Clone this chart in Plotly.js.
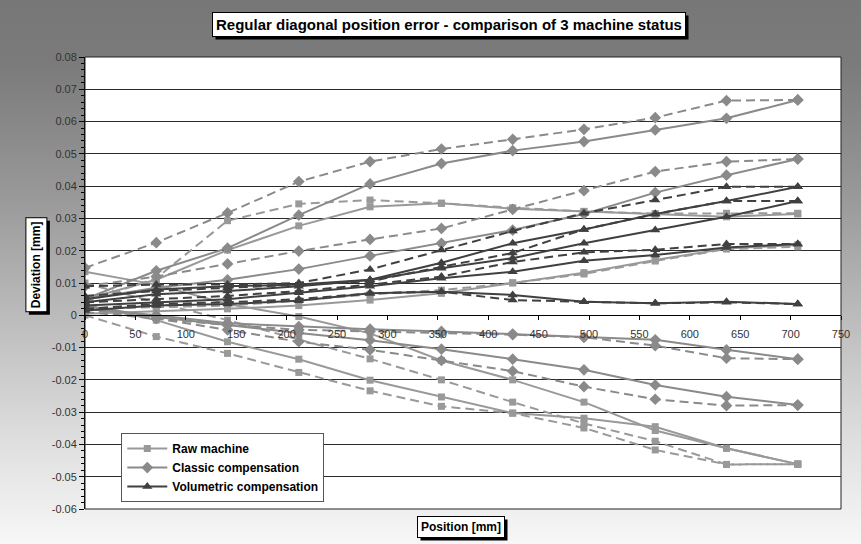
<!DOCTYPE html>
<html>
<head>
<meta charset="utf-8">
<script src="https://cdn.plot.ly/plotly-3.0.1.min.js"></script>
<style>
  html, body { margin: 0; padding: 0; width: 861px; height: 544px; overflow: hidden;
    background: linear-gradient(to bottom, #777777 0%, #7b7b7b 12%, #979797 35%, #bbbbbb 58%, #e0e0e0 82%, #f7f7f7 100%); }
  #chart { width: 861px; height: 544px; }
</style>
</head>
<body>
<div id="chart"></div>
<script>
// Positions along the diagonal [mm]
const positions = [0, 70.7, 141.4, 212.1, 282.8, 353.6, 424.3, 495.0, 565.7, 636.4, 707.1];

// Raw machine (squares)
const rawA_solid = [0.005, 0.011, 0.0202, 0.0277, 0.0336, 0.0347, 0.0330, 0.0321, 0.0313, 0.0305, 0.0314];
const rawA_dash  = [0.004, 0.0115, 0.0293, 0.0345, 0.0357, 0.0347, 0.0333, 0.0322, 0.0315, 0.0316, 0.0316];
const rawB_solid = [0.0005, 0.0012, 0.002, 0.003, 0.0047, 0.0068, 0.0101, 0.0132, 0.0171, 0.0207, 0.0218];
const rawB_dash  = [0.002, 0.0025, 0.003, 0.0045, 0.0065, 0.0078, 0.0100, 0.0128, 0.0168, 0.0205, 0.0212];
const rawC_solid = [0.003, -0.0015, -0.0082, -0.0136, -0.0201, -0.0253, -0.0303, -0.0319, -0.0345, -0.0412, -0.0461];
const rawC_dash  = [0.000, -0.0066, -0.0118, -0.0177, -0.0234, -0.0282, -0.0303, -0.0349, -0.0417, -0.0462, -0.0461];
const rawD_solid = [0.0135, 0.0095, 0.0035, -0.0004, -0.0056, -0.0140, -0.0200, -0.0269, -0.0357, -0.0412, -0.0461];
const rawD_dash  = [0.010, 0.004, -0.0015, -0.0075, -0.0135, -0.0200, -0.0269, -0.0335, -0.0390, -0.0462, -0.0461];

// Classic compensation (diamonds)
const clA_solid = [0.005, 0.0138, 0.0208, 0.0310, 0.0407, 0.0470, 0.0510, 0.0538, 0.0574, 0.0610, 0.0667];
const clA_dash  = [0.0147, 0.0225, 0.0317, 0.0414, 0.0476, 0.0515, 0.0545, 0.0576, 0.0612, 0.0665, 0.0667];
const clB_solid = [0.005, 0.0085, 0.0110, 0.0143, 0.0184, 0.0223, 0.0264, 0.0314, 0.0380, 0.0434, 0.0484];
const clB_dash  = [0.009, 0.0120, 0.0159, 0.0199, 0.0235, 0.0269, 0.0328, 0.0386, 0.0445, 0.0476, 0.0484];
const clC_solid = [0.002, 0.000, -0.0025, -0.0035, -0.0043, -0.0050, -0.0058, -0.0068, -0.0076, -0.0107, -0.0136];
const clC_dash  = [0.001, -0.001, -0.0030, -0.0045, -0.0050, -0.0055, -0.0060, -0.0068, -0.0094, -0.0133, -0.0136];
const clD_solid = [0.003, -0.0005, -0.0030, -0.0055, -0.0077, -0.0105, -0.0136, -0.0169, -0.0216, -0.0252, -0.0278];
const clD_dash  = [0.002, -0.0010, -0.0045, -0.0082, -0.0107, -0.0140, -0.0173, -0.0221, -0.0260, -0.0280, -0.0278];

// Volumetric compensation (triangles)
const voA_dash  = [0.009, 0.0095, 0.0095, 0.0100, 0.0142, 0.0202, 0.0261, 0.0316, 0.0357, 0.0398, 0.0398];
const voA_solid = [0.005, 0.0080, 0.0090, 0.0095, 0.0110, 0.0163, 0.0223, 0.0266, 0.0314, 0.0354, 0.0398];
const voB_dash  = [0.006, 0.0075, 0.0085, 0.0095, 0.0105, 0.0150, 0.0193, 0.0266, 0.0314, 0.0354, 0.0354];
const voB_solid = [0.004, 0.0065, 0.0075, 0.0090, 0.0109, 0.0146, 0.0177, 0.0223, 0.0264, 0.0305, 0.0354];
const voC_dash  = [0.004, 0.0050, 0.0060, 0.0075, 0.0095, 0.0120, 0.0165, 0.0195, 0.0203, 0.0221, 0.0221];
const voC_solid = [0.003, 0.0040, 0.0050, 0.0070, 0.0090, 0.0115, 0.0135, 0.0169, 0.0187, 0.0210, 0.0221];
const voD_solid = [0.0015, 0.0030, 0.0035, 0.0045, 0.0068, 0.0073, 0.0063, 0.0042, 0.0037, 0.0042, 0.0035];
const voD_dash  = [0.002, 0.0035, 0.0040, 0.0050, 0.0068, 0.0073, 0.0047, 0.0042, 0.0037, 0.0040, 0.0035];

const seriesNames = ['Raw machine', 'Classic compensation', 'Volumetric compensation'];
const yTickVals = [-0.06, -0.05, -0.04, -0.03, -0.02, -0.01, 0, 0.01, 0.02, 0.03, 0.04, 0.05, 0.06, 0.07, 0.08];
const yTickText = ['-0.06', '-0.05', '-0.04', '-0.03', '-0.02', '-0.01', '0', '0.01', '0.02', '0.03', '0.04', '0.05', '0.06', '0.07', '0.08'];

const groups = [
  { name: seriesNames[0], color: '#999999', symbol: 'square', size: 7,
    lines: [[rawA_solid, 'solid'], [rawA_dash, 'dash'], [rawB_solid, 'solid'], [rawB_dash, 'dash'],
            [rawC_solid, 'solid'], [rawC_dash, 'dash'], [rawD_solid, 'solid'], [rawD_dash, 'dash']] },
  { name: seriesNames[1], color: '#8a8a8a', symbol: 'diamond', size: 9,
    lines: [[clA_solid, 'solid'], [clA_dash, 'dash'], [clB_solid, 'solid'], [clB_dash, 'dash'],
            [clC_solid, 'solid'], [clC_dash, 'dash'], [clD_solid, 'solid'], [clD_dash, 'dash']] },
  { name: seriesNames[2], color: '#404040', symbol: 'triangle-up', size: 9,
    lines: [[voA_solid, 'solid'], [voA_dash, 'dash'], [voB_solid, 'solid'], [voB_dash, 'dash'],
            [voC_solid, 'solid'], [voC_dash, 'dash'], [voD_solid, 'solid'], [voD_dash, 'dash']] }
];

const traces = [];
groups.forEach(g => {
  g.lines.forEach((ln, i) => {
    traces.push({
      x: positions, y: ln[0], type: 'scatter', mode: 'lines+markers',
      name: g.name, legendgroup: g.name, showlegend: i === 0,
      line: { color: g.color, width: 2, dash: ln[1] === 'dash' ? '9px,5px' : 'solid' },
      marker: { symbol: g.symbol, size: g.size, color: g.color },
      hoverinfo: 'x+y'
    });
  });
});

const fontFam = 'Liberation Sans, Arial, sans-serif';
const titleText = '<b>Regular diagonal position error - comparison of 3 machine status</b>';
const yTitle = '<b>Deviation [mm]</b>';
const xTitle = '<b>Position [mm]</b>';

function boxed(text, x, y, size, angle) {
  return { xref: 'paper', yref: 'paper', x: x, y: y, xanchor: 'center', yanchor: 'middle',
    showarrow: false, textangle: angle, borderwidth: 1, borderpad: 3,
    text: text, font: { family: fontFam, size: size, color: '#000' },
    bgcolor: '#ffffff', bordercolor: '#000' };
}

const frameShape = { type: 'rect', xref: 'paper', yref: 'paper', x0: 0, x1: 1, y0: 0, y1: 1,
  line: { color: '#222', width: 1 }, layer: 'above' };

const layout = {
  width: 861, height: 544,
  margin: { l: 85, r: 20, t: 57, b: 35 },
  paper_bgcolor: 'rgba(0,0,0,0)',
  plot_bgcolor: '#ffffff',
  showlegend: true,
  legend: {
    x: 0.048, y: 0.168, xanchor: 'left', yanchor: 'top',
    bgcolor: '#ffffff', bordercolor: '#555555', borderwidth: 1,
    font: { family: fontFam, size: 12, color: '#000', weight: 'bold' },
    itemwidth: 40, tracegroupgap: 0, entrywidth: 180
  },
  xaxis: {
    range: [0, 750], dtick: 50, tick0: 0,
    anchor: 'free', position: 0.06 / 0.14,
    showgrid: false, zeroline: false,
    showline: true, linecolor: '#000', linewidth: 1,
    ticks: 'outside', ticklen: 4, tickcolor: '#000',
    ticklabelstandoff: 5,
    tickfont: { family: fontFam, size: 11, color: '#333' }
  },
  yaxis: {
    range: [-0.06, 0.08],
    tickmode: 'array', tickvals: yTickVals, ticktext: yTickText,
    showgrid: true, gridcolor: '#2a2a2a', gridwidth: 1,
    zeroline: false,
    showline: true, linecolor: '#000', linewidth: 1,
    ticks: 'outside', ticklen: 5, tickcolor: '#000',
    minor: { dtick: 0.002, tick0: 0, ticks: 'outside', ticklen: 3, tickcolor: '#000', showgrid: false },
    tickfont: { family: fontFam, size: 11, color: '#333' }
  },
  shapes: [frameShape],
  annotations: [
    boxed(titleText, 0.481, 1.072, 15, 0),
    boxed(yTitle, -0.0644, 0.54, 12, -90),
    boxed(xTitle, 0.4977, -0.04, 12, 0)
  ]
};

const gd = document.getElementById('chart');
Plotly.newPlot(gd, traces, layout, { displayModeBar: false, responsive: false }).then(() => {
  // drop shadows behind the boxed titles
  const sz = gd._fullLayout._size;
  const host = gd.getBoundingClientRect();
  const shadows = [];
  gd.querySelectorAll('.annotation rect.bg').forEach(r => {
    const b = r.getBoundingClientRect();
    const left = b.left - host.left + 3, right = b.right - host.left + 3;
    const top = b.top - host.top + 3, bottom = b.bottom - host.top + 3;
    shadows.push({ type: 'rect', xref: 'paper', yref: 'paper',
      x0: (left - sz.l) / sz.w, x1: (right - sz.l) / sz.w,
      y0: (sz.t + sz.h - bottom) / sz.h, y1: (sz.t + sz.h - top) / sz.h,
      fillcolor: '#000', line: { width: 0 }, layer: 'below' });
  });
  Plotly.relayout(gd, { shapes: [frameShape].concat(shadows) });
});
</script>
</body>
</html>
